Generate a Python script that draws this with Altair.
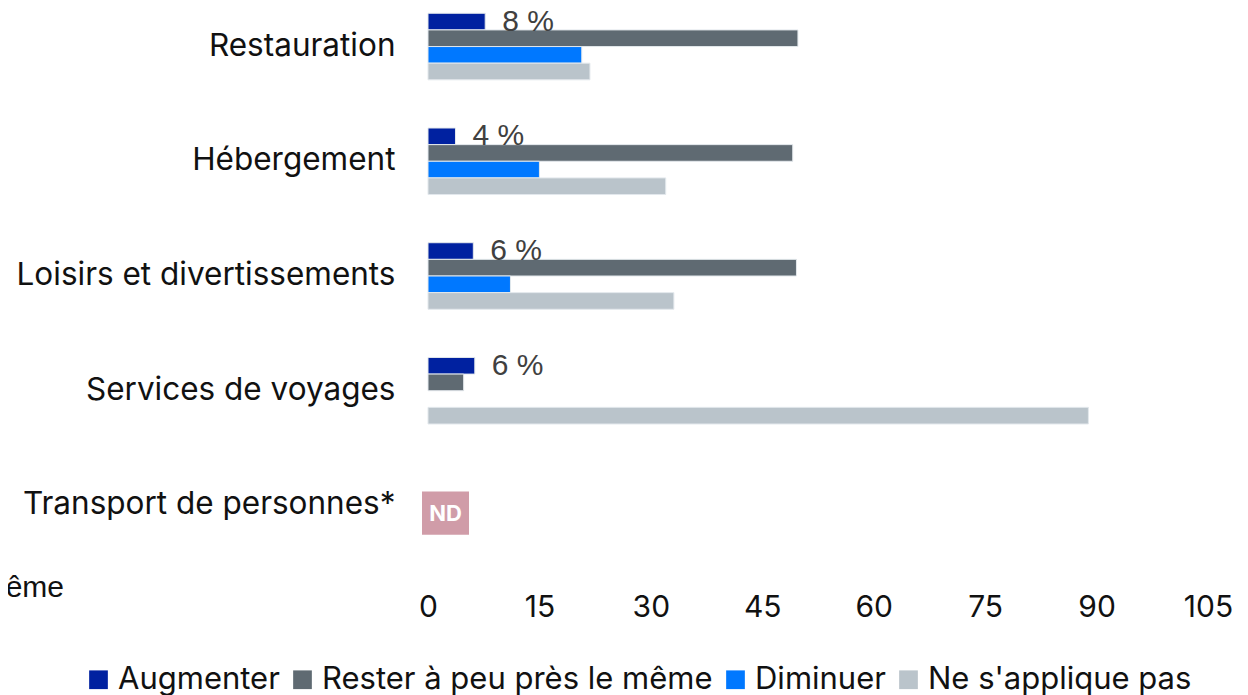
import altair as alt
import pandas as pd

categories = ["Restauration", "Hébergement", "Loisirs et divertissements",
              "Services de voyages", "Transport de personnes*"]
series = ["Augmenter", "Rester à peu près le même", "Diminuer", "Ne s'applique pas"]
colors = ["#0021A0", "#5F6A72", "#0078FF", "#BAC4CB"]

augmenter = [7.7, 3.7, 6.1, 6.3, None]
rester = [49.8, 49.1, 49.6, 4.8, None]
diminuer = [20.7, 15.0, 11.1, 0, None]
ne_s_applique_pas = [21.8, 32.0, 33.1, 88.9, None]
augmenter_labels = ["8 %", "4 %", "6 %", "6 %", None]
nd_category = ["Transport de personnes*"]
nd_text = ["ND"]
x_ticks = [0, 15, 30, 45, 60, 75, 90, 105]
clipped_note = ["Rester à peu près le même"]

rows = []
for i, c in enumerate(categories):
    for s, vals in zip(series, [augmenter, rester, diminuer, ne_s_applique_pas]):
        v = vals[i]
        if v is not None and v > 0:
            rows.append({"categorie": c, "serie": s, "valeur": v})
df = pd.DataFrame(rows)

lab_rows = [{"categorie": c, "serie": series[0], "valeur": augmenter[i], "texte": augmenter_labels[i]}
            for i, c in enumerate(categories) if augmenter_labels[i] is not None]
lab_df = pd.DataFrame(lab_rows)

nd_df = pd.DataFrame({"categorie": nd_category, "valeur": [0], "texte": nd_text})
note_df = pd.DataFrame({"t": clipped_note})

FONT = "Inter"
TXT = "#111111"

y_enc = alt.Y("categorie:N", sort=categories,
              scale=alt.Scale(domain=categories, paddingInner=0.42, paddingOuter=0.046),
              axis=alt.Axis(title=None, labelFontSize=31.5, labelFont=FONT, labelColor=TXT,
                            labelPadding=33, ticks=False, domain=False, labelLimit=0))
x_enc = alt.X("valeur:Q", scale=alt.Scale(domain=[0, 105], nice=False, zero=True),
              axis=alt.Axis(title=None, values=x_ticks, grid=False, domain=False, ticks=False,
                            labelFontSize=30, labelFont=FONT, labelColor=TXT,
                            labelPadding=48, labelFlush=False))
yoff = alt.YOffset("serie:N", sort=series,
                   scale=alt.Scale(domain=series, paddingInner=0, paddingOuter=0))

bars = alt.Chart(df).mark_bar(stroke="#E3E8EC", strokeWidth=1).encode(
    x=x_enc,
    y=y_enc,
    yOffset=yoff,
    color=alt.Color("serie:N", sort=series,
                    scale=alt.Scale(domain=series, range=colors),
                    legend=alt.Legend(orient="none", legendX=-345, legendY=656,
                                      direction="horizontal", title=None,
                                      symbolType="square", symbolSize=350,
                                      symbolStrokeWidth=0, labelFontSize=31,
                                      labelFont=FONT, labelColor=TXT,
                                      columnPadding=7, labelOffset=4,
                                      labelLimit=0)),
)

labels = alt.Chart(lab_df).mark_text(align="left", baseline="middle", dx=17,
                                     font="Liberation Sans", fontSize=30,
                                     color="#404040").encode(
    x=alt.X("valeur:Q"),
    y=alt.Y("categorie:N", sort=categories),
    yOffset=alt.YOffset("serie:N", sort=series),
    text="texte:N",
)

nd_box = alt.Chart(nd_df).mark_point(
    shape="M-1,-0.92L1,-0.92L1,0.92L-1,0.92Z", size=2209, filled=True,
    color="#D09CA8", opacity=1, xOffset=17.5, yOffset=7.6).encode(
    x=alt.X("valeur:Q"),
    y=alt.Y("categorie:N", sort=categories),
)
nd_lab = alt.Chart(nd_df).mark_text(
    align="center", baseline="middle", font=FONT, fontWeight="bold",
    fontSize=22, color="white", xOffset=17.5, yOffset=8.5).encode(
    x=alt.X("valeur:Q"),
    y=alt.Y("categorie:N", sort=categories),
    text="texte:N",
)

note = alt.Chart(note_df).mark_text(
    align="right", baseline="alphabetic", font="Liberation Sans",
    fontSize=30, color=TXT).encode(
    x=alt.value(-364), y=alt.value(589), text="t:N")

chart = alt.layer(bars, labels, nd_box, nd_lab, note).properties(
    width=780, height=536,
    autosize=alt.AutoSizeParams(type="none"),
    padding={"left": 420, "top": 0, "right": 30, "bottom": 151},
).configure_view(stroke=None)

chart.save("out.html", embed_options={"renderer": "svg", "actions": False})
